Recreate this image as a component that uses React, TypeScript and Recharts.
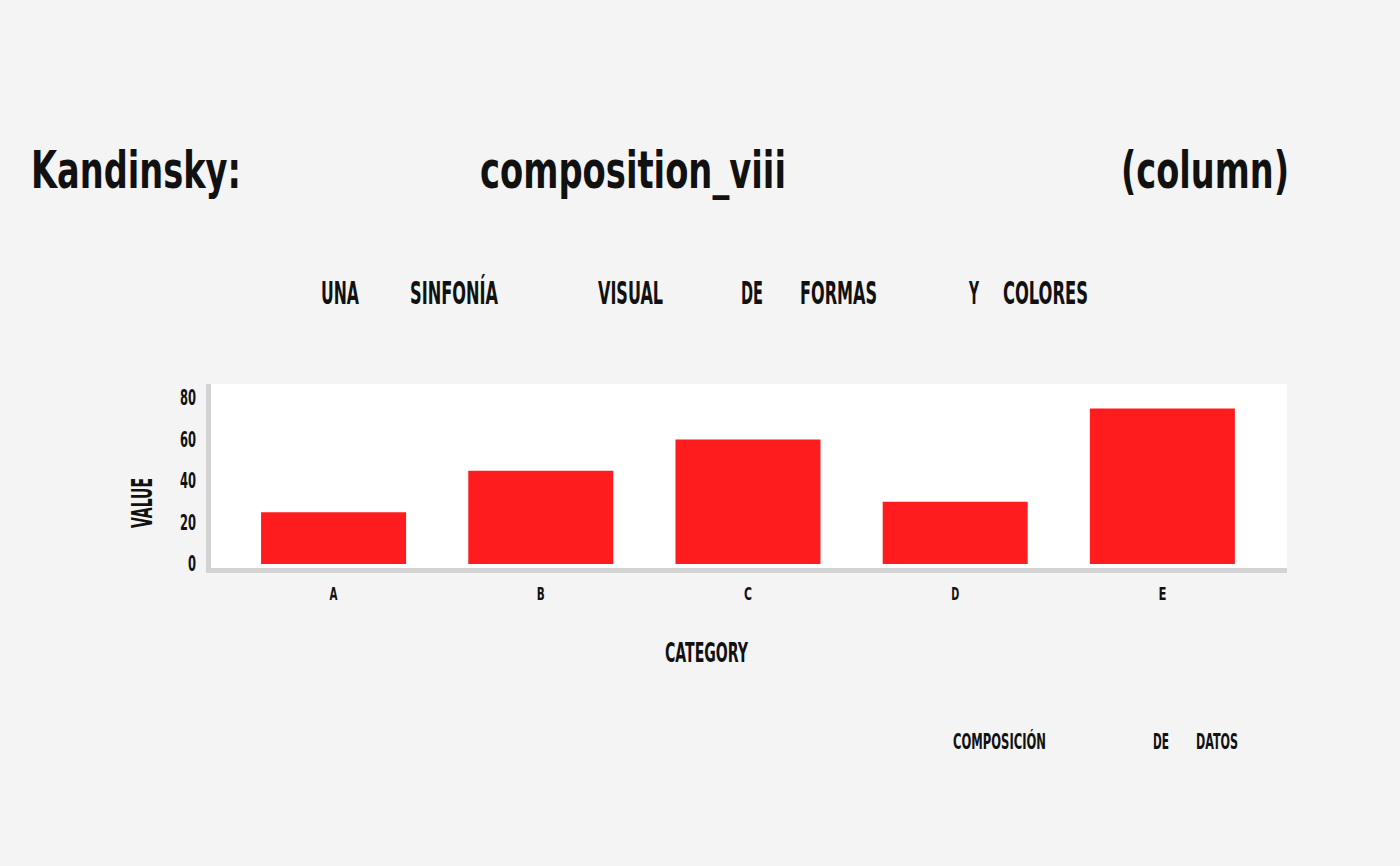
import React from "react"
import { BarChart, Bar, XAxis, YAxis } from "recharts"

const categories = ["A", "B", "C", "D", "E"]
const values = [25, 45, 60, 30, 75]
const valueTicks = [0, 20, 40, 60, 80]

const chartData = categories.map((cat, i) => ({ category: cat, value: values[i] }))

const FONT = "'Liberation Sans Narrow', 'DejaVu Sans Condensed', 'Roboto', sans-serif"
const INK = "#111111"

interface WordProps {
  x: number
  y: number
  w: number
  size: number
  children: string
}

// one word, squeezed or stretched to the width it has in the picture
function Word({ x, y, w, size, children }: WordProps) {
  return (
    <text
      x={x}
      y={y}
      textLength={w}
      lengthAdjust="spacingAndGlyphs"
      fontSize={size}
      fontFamily={FONT}
      fontWeight={700}
      fill={INK}
    >
      {children}
    </text>
  )
}

function YTick(props: any) {
  const { x, y, payload } = props
  const label = String(payload.value)
  return (
    <text
      x={x}
      y={y + 7}
      textAnchor="end"
      textLength={label.length * 8}
      lengthAdjust="spacingAndGlyphs"
      fontSize={21}
      fontFamily={FONT}
      fontWeight={700}
      fill={INK}
    >
      {label}
    </text>
  )
}

function XTick(props: any) {
  const { x, y, payload } = props
  return (
    <text
      x={x}
      y={y + 13}
      textAnchor="middle"
      textLength={8}
      lengthAdjust="spacingAndGlyphs"
      fontSize={18}
      fontFamily={FONT}
      fontWeight={700}
      fill={INK}
    >
      {payload.value}
    </text>
  )
}

export default function App() {
  return (
    <div
      style={{
        position: "absolute",
        left: 0,
        top: 0,
        width: 1400,
        height: 866,
        background: "#f4f4f4",
        overflow: "hidden",
      }}
    >
      {/* plot panel */}
      <div
        style={{
          position: "absolute",
          left: 206,
          top: 384,
          width: 1076,
          height: 184,
          background: "#ffffff",
          borderLeft: "5px solid #d3d3d3",
          borderBottom: "5px solid #d3d3d3",
        }}
      />

      <div style={{ position: "absolute", left: 0, top: 0 }}>
        <BarChart
          width={1400}
          height={866}
          data={chartData}
          margin={{ top: 384, right: 113, bottom: 268, left: 196 }}
          barCategoryGap="15%"
        >
          <XAxis
            dataKey="category"
            height={30}
            padding={{ left: 19, right: 21 }}
            axisLine={false}
            tickLine={false}
            tickSize={0}
            tickMargin={19}
            tick={<XTick />}
            interval={0}
          />
          <YAxis
            width={15}
            domain={[0, 80]}
            ticks={valueTicks}
            padding={{ top: 14, bottom: 4 }}
            axisLine={false}
            tickLine={false}
            tickSize={0}
            tickMargin={15}
            tick={<YTick />}
            interval={0}
          />
          <Bar dataKey="value" fill="#ff1c1f" isAnimationActive={false} />
        </BarChart>
      </div>

      <svg
        width={1400}
        height={866}
        style={{ position: "absolute", left: 0, top: 0, pointerEvents: "none" }}
      >
        {/* title */}
        <Word x={31} y={188} w={210} size={52}>Kandinsky:</Word>
        <Word x={480} y={188} w={306} size={52}>composition_viii</Word>
        <Word x={1121} y={188} w={168} size={52}>(column)</Word>

        {/* subtitle */}
        <Word x={321} y={304} w={38} size={32}>UNA</Word>
        <Word x={410} y={304} w={88} size={32}>SINFONÍA</Word>
        <Word x={598} y={304} w={65} size={32}>VISUAL</Word>
        <Word x={741} y={304} w={22} size={32}>DE</Word>
        <Word x={800} y={304} w={77} size={32}>FORMAS</Word>
        <Word x={969} y={304} w={10} size={32}>Y</Word>
        <Word x={1003} y={304} w={85} size={32}>COLORES</Word>

        {/* axis titles */}
        <Word x={665} y={662} w={83} size={27}>CATEGORY</Word>
        <g transform="translate(152,528) rotate(-90)">
          <Word x={0} y={0} w={50} size={28}>VALUE</Word>
        </g>

        {/* caption */}
        <Word x={953} y={749} w={93} size={21}>COMPOSICIÓN</Word>
        <Word x={1153} y={749} w={16} size={21}>DE</Word>
        <Word x={1196} y={749} w={42} size={21}>DATOS</Word>
      </svg>
    </div>
  )
}
